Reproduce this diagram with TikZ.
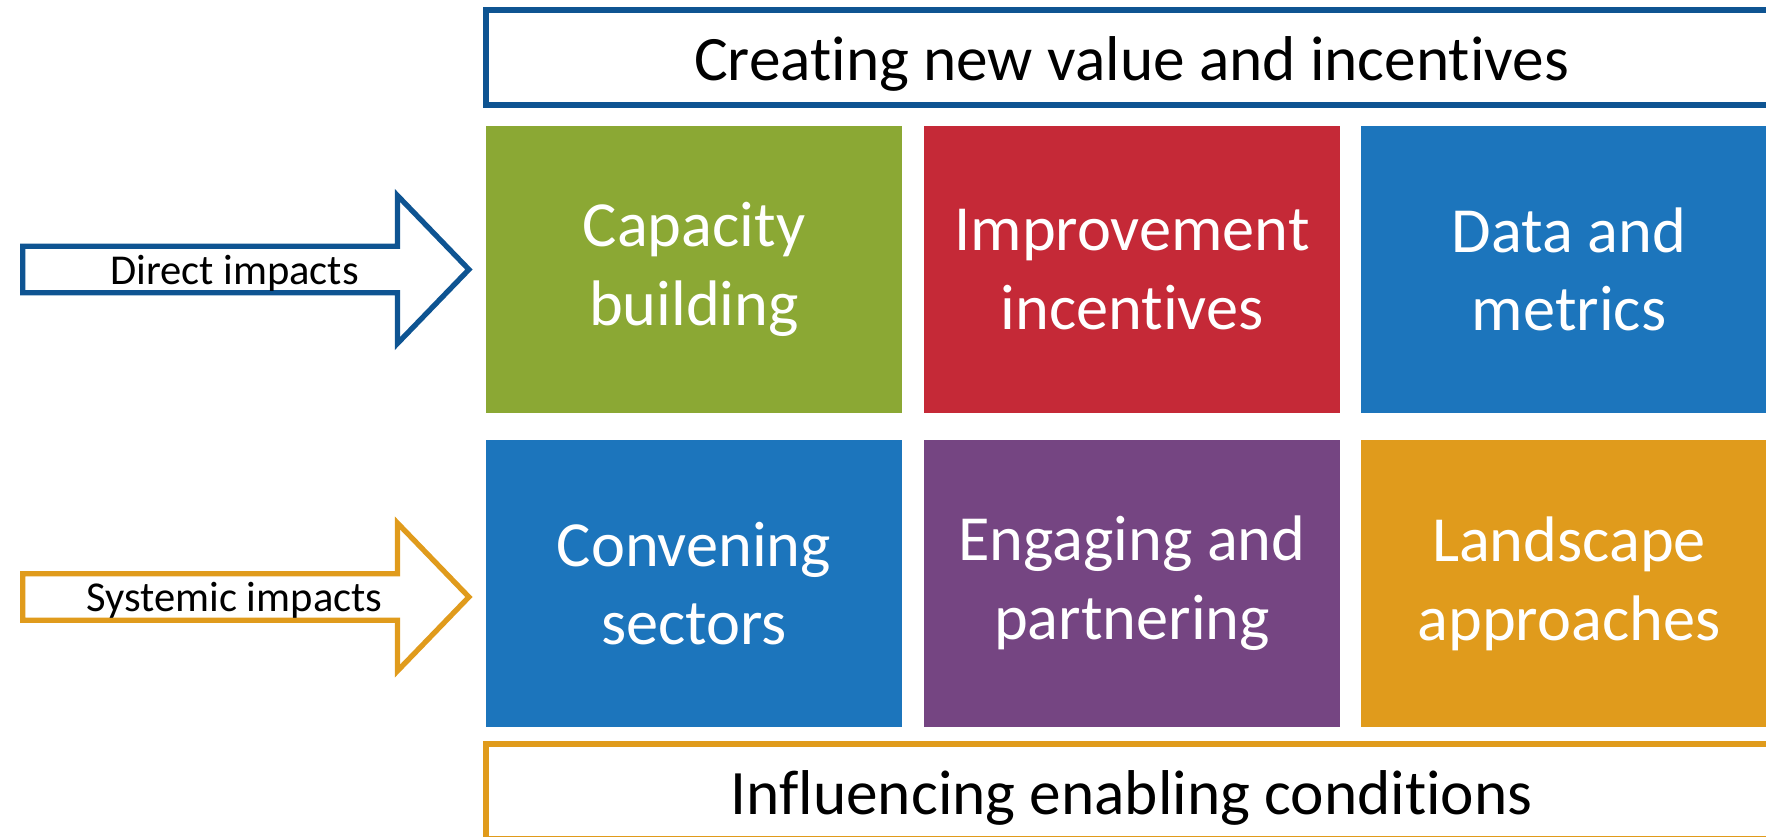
\documentclass[tikz,border=0pt]{standalone}
\usepackage{fontspec}
\setmainfont{Carlito}[Ligatures=NoCommon]
\usetikzlibrary{shapes.arrows}
\definecolor{levergreen}{RGB}{139, 168, 52}
\definecolor{leverred}{RGB}{197, 41, 55}
\definecolor{leverblue}{RGB}{28, 117, 188}
\definecolor{leverpurple}{RGB}{117, 69, 130}
\definecolor{leverorange}{RGB}{224, 155, 28}
\definecolor{banddarkblue}{RGB}{14, 84, 146}
\definecolor{textblack}{RGB}{0, 0, 0}

\begin{document}
\begin{tikzpicture}[
        x=0.01cm, y=-0.01cm,
        lever/.style={rectangle, minimum width=4.16cm, minimum height=2.87cm, inner sep=0pt, text=white, align=center, font=\fontsize{18.3}{22.4}\selectfont},
        band/.style={rectangle, line width=1.7pt, minimum width=12.91cm, minimum height=0.95cm, text height=0.55cm, text depth=0.1cm, fill=white, text=textblack, font=\fontsize{18}{20}\selectfont},
        impact/.style={single arrow, line width=1.5pt, fill=white, minimum height=4.46cm, minimum width=1.48cm, single arrow head extend=0.375cm, single arrow tip angle=92, inner sep=0pt, text depth=0pt, text=textblack, font=\fontsize{12.1}{13}\selectfont}
    ]
    \useasboundingbox (0, 0) rectangle (1766, 837);
    \clip (0, 0) rectangle (1766, 837);

    % Bands
    \node[band, draw=banddarkblue] (value) at (1131.5, 57.5) {Creating new value and incentives};
    \node[band, draw=leverorange] (enabling) at (1131.5, 791.5) {Influencing enabling conditions};

    % Levers
    \node[lever, fill=levergreen] (capacity) at (694, 269.5) {Capacity\\ building};
    \node[lever, fill=leverred] (improve) at (1132, 269.5) {Improvement\\ incentives};
    \node[lever, fill=leverblue] (data) at (1569, 269.5) {Data and\\ metrics};
    \node[lever, fill=leverblue] (convene) at (694, 583.5) {Convening\\ sectors};
    \node[lever, fill=leverpurple] (engage) at (1132, 583.5) {Engaging and\\ partnering};
    \node[lever, fill=leverorange] (landscape) at (1569, 583.5) {Landscape\\ approaches};

    % Impacts
    \node[impact, draw=banddarkblue, anchor=tail] (direct) at (20, 269.5) {Direct impacts};
    \node[impact, draw=leverorange, anchor=tail] (systemic) at (20, 597) {Systemic impacts};

    \end{tikzpicture}
\end{document}
